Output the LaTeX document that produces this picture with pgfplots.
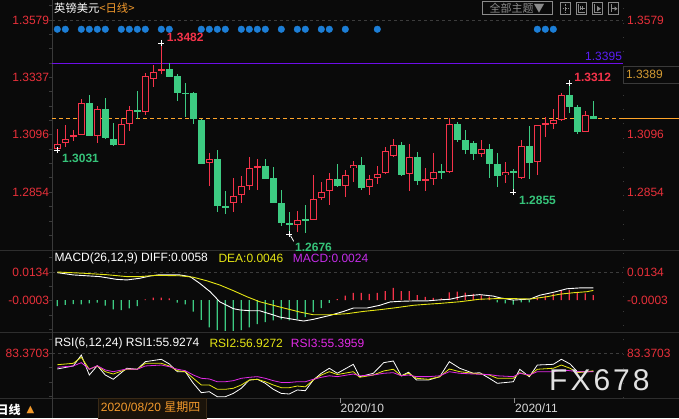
\documentclass[border=0pt]{standalone}
\usepackage{pgfplots}
\pgfplotsset{compat=1.18}
\usepackage{pgfplotstable}
\usepackage{fontspec}
\setmainfont{Liberation Sans}
\newfontfamily\cjk{Noto Sans CJK SC}
\newfontfamily\dvs{DejaVu Sans}
\newfontfamily\fxfont[LetterSpace=10]{Liberation Sans}

\definecolor{bg}{HTML}{0A0A0A}
\definecolor{upred}{HTML}{F5334A}
\definecolor{downgreen}{HTML}{3DCB82}
\definecolor{labred}{HTML}{E8303A}
\definecolor{labgreen}{HTML}{36C47A}
\definecolor{purpleline}{HTML}{6E0EE8}
\definecolor{purpletxt}{HTML}{5A1EF5}
\definecolor{orangeline}{HTML}{FFA52A}
\definecolor{orangetxt}{HTML}{F39A2C}
\definecolor{goldtxt}{HTML}{D39A32}
\definecolor{dotblue}{HTML}{1C7ED6}
\definecolor{axgray}{HTML}{3A3A3A}
\definecolor{gridgray}{HTML}{3C3C3C}
\definecolor{sepgray}{HTML}{2E2E2E}
\definecolor{ylw}{HTML}{E6E614}
\definecolor{mgt}{HTML}{E22AE6}
\definecolor{mgttxt}{HTML}{C42CE8}
\definecolor{btngray}{HTML}{8A8A8A}
\definecolor{datetxt}{HTML}{D8D8D8}
\definecolor{dateborder}{HTML}{3A2A16}
\definecolor{datefill}{HTML}{1A130A}
\definecolor{wmark}{HTML}{E2E2E2}

\newcommand\fs[1]{\fontsize{#1}{#1}\selectfont}

% candles: i open high low close (red = up, green = down)
\pgfplotstableread{
i o h l c
0 1.3034 1.3120 1.3031 1.3055
1 1.3060 1.3135 1.3045 1.3076
2 1.3086 1.3116 1.3071 1.3093
3 1.3096 1.3245 1.3094 1.3228
5 1.3092 1.3217 1.3062 1.3203
8 1.3054 1.3165 1.3052 1.3140
9 1.3142 1.3217 1.3113 1.3198
11 1.3193 1.3354 1.3180 1.3343
12 1.3329 1.3391 1.3298 1.3358
13 1.3363 1.3482 1.3351 1.3371
19 1.2975 1.3017 1.2881 1.2992
22 1.2807 1.2915 1.2772 1.2838
23 1.2841 1.2922 1.2810 1.2880
24 1.2881 1.3001 1.2863 1.2954
25 1.2958 1.2994 1.2862 1.2964
30 1.2718 1.2775 1.2688 1.2735
32 1.2738 1.2926 1.2737 1.2824
33 1.2828 1.2898 1.2821 1.2853
34 1.2857 1.2933 1.2800 1.2909
36 1.2881 1.2947 1.2835 1.2925
37 1.2954 1.2985 1.2898 1.2967
39 1.2874 1.2926 1.2843 1.2909
40 1.2912 1.2964 1.2888 1.2929
41 1.2933 1.3043 1.2932 1.3027
42 1.3008 1.3078 1.3003 1.3051
44 1.2929 1.3057 1.2860 1.3001
46 1.2904 1.2954 1.2859 1.2907
47 1.2908 1.3017 1.2885 1.2937
49 1.2940 1.3168 1.2936 1.3140
53 1.3016 1.3074 1.3001 1.3034
56 1.2925 1.2981 1.2894 1.2937
58 1.2912 1.3074 1.2908 1.3047
60 1.2980 1.3136 1.2926 1.3135
61 1.3140 1.3169 1.3088 1.3145
62 1.3142 1.3203 1.3120 1.3156
63 1.3156 1.3270 1.3154 1.3263
66 1.3109 1.3196 1.3106 1.3177
}\upcandles

\pgfplotstableread{
i o h l c
4 1.3228 1.3263 1.3090 1.3092
6 1.3203 1.3249 1.3079 1.3083
7 1.3078 1.3144 1.3048 1.3052
10 1.3200 1.3278 1.3161 1.3191
14 1.3372 1.3399 1.3337 1.3340
15 1.3343 1.3351 1.3239 1.3273
16 1.3271 1.3315 1.3172 1.3269
17 1.3273 1.3274 1.3140 1.3161
18 1.3158 1.3163 1.2973 1.2974
20 1.2994 1.3031 1.2772 1.2797
21 1.2796 1.2859 1.2761 1.2790
26 1.2964 1.2994 1.2910 1.2911
27 1.2915 1.2958 1.2809 1.2810
28 1.2808 1.2863 1.2711 1.2725
29 1.2723 1.2772 1.2676 1.2717
31 1.2741 1.2800 1.2683 1.2734
35 1.2909 1.2972 1.2877 1.2881
38 1.2967 1.3002 1.2863 1.2873
43 1.3051 1.3067 1.2922 1.2928
45 1.3001 1.3023 1.2884 1.2902
48 1.2943 1.2972 1.2908 1.2937
50 1.3141 1.3149 1.3067 1.3074
51 1.3074 1.3116 1.3015 1.3031
52 1.3060 1.3069 1.2989 1.3016
54 1.3034 1.3058 1.2915 1.2974
55 1.2972 1.3019 1.2877 1.2922
57 1.2942 1.2953 1.2855 1.2936
59 1.3048 1.3132 1.2911 1.2978
64 1.3263 1.3312 1.3189 1.3214
65 1.3212 1.3221 1.3100 1.3109
67 1.3175 1.3238 1.3161 1.3163
}\downcandles

\pgfplotsset{
  panel/.style={scale only axis, anchor=south west, width=570.7pt,
    xmin=-0.625, xmax=70.71, axis x line=none, axis y line*=left,
    clip=false, scaled y ticks=false,
    y axis line style={draw=axgray, line width=0.8pt},
    tick align=outside, major tick length=3pt, minor tick length=3pt,
    ytick style={draw=axgray, line width=0.7pt},
    yticklabel style={text=labred, font=\fs{12}, inner sep=0pt,
      /pgf/number format/fixed, /pgf/number format/fixed zerofill,
      /pgf/number format/precision=4,
      /pgf/number format/assume math mode=true}},
  candle/.style 2 args={draw=none, mark=none, forget plot,
    error bars/.cd, y dir=both, y explicit, error mark=none,
    error bar style={draw=#1, line width=#2, solid}},
}
\tikzset{
  rlab/.style={anchor=west, text=labred, font=\fs{12}, inner sep=0pt, xshift=4pt},
}

\begin{document}
\begin{tikzpicture}[x=1pt,y=1pt]
\clip (0,0) rectangle (679,418);
\fill[bg] (0,0) rectangle (679,418);

% panel separators
\draw[sepgray, line width=0.9pt] (0,167.7) -- (679,167.7);
\draw[sepgray, line width=0.9pt] (0,85.3) -- (679,85.3);
\draw[sepgray, line width=0.9pt] (0,20) -- (679,20);
\draw[axgray, line width=0.8pt] (52.3,0) -- (52.3,418);
\draw[axgray, line width=0.6pt, dash pattern=on 1pt off 13.4pt] (623.3,20) -- (623.3,418);

% ---------------- price panel ----------------
\begin{axis}[panel, at={(52.3pt,168pt)}, height=250pt,
  ymin=1.261053, ymax=1.366316,
  ytick={1.2854,1.3096,1.3337,1.3579},
  minor ytick={1.36395,1.35185,1.3458,1.33975,1.3277,1.32165,1.3156,1.30355,1.2975,1.29145,1.27935,1.2733,1.26725}]
\draw[gridgray, dash pattern=on 3pt off 3pt] (axis cs:-0.625,1.3579) -- (axis cs:70.71,1.3579);
\addplot[draw=purpleline, line width=1.5pt] coordinates {(-0.625,1.3395) (70.71,1.3395)};
\addplot[orangeline, line width=1pt, dash pattern=on 4pt off 3pt] coordinates {(-0.625,1.3163) (70.71,1.3163)};
\addplot[orangeline, line width=1pt] coordinates {(70.71,1.3163) (77.8,1.3163)};

\addplot[only marks, mark=*, mark size=3.3pt, dotblue] coordinates {
 (0,1.354) (1,1.354) (3,1.354) (4,1.354) (5,1.354) (6,1.354)
 (8,1.354) (9,1.354) (10,1.354) (11,1.354) (13,1.354) (14,1.354)
 (18,1.354) (19,1.354) (20,1.354) (21,1.354) (23,1.354) (24,1.354)
 (25,1.354) (26,1.354) (28,1.354) (30,1.354) (31,1.354) (33,1.354)
 (34,1.354) (36,1.354) (40,1.354) (60,1.354) (61,1.354) (62,1.354)};

% wicks
\addplot[candle={upred}{1pt}] table[x=i, y expr=(\thisrow{h}+\thisrow{l})/2,
  y error expr=(\thisrow{h}-\thisrow{l})/2] {\upcandles};
\addplot[candle={downgreen}{1pt}] table[x=i, y expr=(\thisrow{h}+\thisrow{l})/2,
  y error expr=(\thisrow{h}-\thisrow{l})/2] {\downcandles};
% bodies
\addplot[candle={upred}{7pt}] table[x=i, y expr=(\thisrow{o}+\thisrow{c})/2,
  y error expr={max(abs(\thisrow{c}-\thisrow{o})/2,0.00022)}] {\upcandles};
\addplot[candle={bg}{5pt}] table[x=i, y expr=(\thisrow{o}+\thisrow{c})/2,
  y error expr={max(abs(\thisrow{c}-\thisrow{o})/2-0.00042,0)}] {\upcandles};
\addplot[candle={downgreen}{7pt}] table[x=i, y expr=(\thisrow{o}+\thisrow{c})/2,
  y error expr={max(abs(\thisrow{c}-\thisrow{o})/2,0.00022)}] {\downcandles};

% extreme markers
\addplot[only marks, mark=+, mark size=3pt, white, line width=0.8pt] coordinates {
 (0,1.3031) (13,1.3482) (29,1.2676) (57,1.2855) (64,1.3312)};
\draw[white, line width=0.8pt] (axis cs:29.15,1.2671) -- (axis cs:29.55,1.2647);

\node[anchor=west, inner sep=0pt, font=\fs{12}\bfseries, text=upred] at (axis cs:13.67,1.3505) {1.3482};
\node[anchor=west, inner sep=0pt, font=\fs{12}\bfseries, text=labgreen] at (axis cs:0.59,1.2996) {1.3031};
\node[anchor=west, inner sep=0pt, font=\fs{12}\bfseries, text=labgreen] at (axis cs:29.71,1.2621) {1.2676};
\node[anchor=west, inner sep=0pt, font=\fs{12}\bfseries, text=labgreen] at (axis cs:57.71,1.2819) {1.2855};
\node[anchor=west, inner sep=0pt, font=\fs{12}\bfseries, text=upred] at (axis cs:64.6,1.3337) {1.3312};
\node[anchor=east, inner sep=0pt, font=\fs{12}, text=purpletxt] at (axis cs:70.6,1.3425) {1.3395};

\node[rlab] at (axis cs:70.71,1.3579) {1.3579};
\node[rlab] at (axis cs:70.71,1.3096) {1.3096};
\node[rlab] at (axis cs:70.71,1.2854) {1.2854};
\end{axis}

% ---------------- MACD panel ----------------
\begin{axis}[panel, at={(52.3pt,85.3pt)}, height=82.4pt,
  ymin=-0.015575, ymax=0.023757,
  ytick={-0.0003,0.0134}, minor ytick={-0.014,-0.00715,0.00655,0.02025}]
\draw[gridgray, dash pattern=on 3pt off 3pt] (axis cs:-0.625,0.0134) -- (axis cs:70.71,0.0134);
\addplot[ybar, bar width=1.2pt, bar shift=0pt, fill=upred, draw=none] coordinates {
 (11,0.00035) (12,0.00115) (13,0.00115) (14,0.00083) (35,0.0005)
 (36,0.0021) (37,0.0034) (38,0.0034) (39,0.0029) (40,0.0034) (41,0.0043)
 (42,0.0058) (43,0.0043) (44,0.0043) (45,0.0024) (46,0.0015) (47,0.0010)
 (48,0.00083) (49,0.00369) (50,0.00401) (51,0.00353) (52,0.00290) (53,0.00226)
 (54,0.00162) (60,0.00115) (61,0.00210) (62,0.00306) (63,0.00480) (64,0.00480)
 (65,0.00353) (66,0.00322) (67,0.00240)};
\addplot[ybar, bar width=1.2pt, bar shift=0pt, fill=downgreen, draw=none] coordinates {
 (0,-0.00283) (1,-0.00235) (2,-0.00188) (3,-0.00203) (4,-0.00156) (5,-0.00124)
 (6,-0.00267) (7,-0.00442) (8,-0.00474) (9,-0.00394) (10,-0.00283) (15,-0.00124)
 (16,-0.00203) (17,-0.00554) (18,-0.00951) (19,-0.01302) (20,-0.01429) (21,-0.01476)
 (22,-0.01476) (23,-0.01429) (24,-0.01302) (25,-0.01151) (26,-0.01049) (27,-0.00969)
 (28,-0.0092) (29,-0.0097) (30,-0.0092) (31,-0.0081) (32,-0.0057) (33,-0.0038)
 (34,-0.0013)
 (55,-0.00108) (56,-0.00156) (57,-0.00220) (58,-0.00108) (59,-0.00108)};
% DIFF
\addplot[white, line width=0.9pt] coordinates {
 (0,0.0131) (2,0.0120) (5.3,0.0112) (7.4,0.0099) (8.7,0.0096) (10.3,0.0104)
 (11.6,0.0115) (12.8,0.0121) (15.3,0.0120) (16.6,0.0112) (17.8,0.0080) (19.1,0.0040)
 (20.3,-0.0008) (22,-0.0041) (22.8,-0.0047) (24.1,-0.0051) (25.3,-0.0051) (27,-0.0071)
 (27.8,-0.0081) (29.5,-0.0092) (30.8,-0.0100) (32,-0.0092) (34.1,-0.0073) (35.8,-0.0054)
 (37,-0.0038) (38.7,-0.0038) (40.3,-0.0025) (41.6,-0.0009) (42.8,-0.0006) (44.5,-0.0004)
 (46.2,-0.0004) (47.8,0.0001) (49.1,0.0004)
 (50.8,0.0019) (52.8,0.0026) (54.5,0.0019) (55.3,0.0011) (57,0.0000) (59.1,0.0005)
 (60.3,0.0023) (62,0.0037) (63.7,0.0054) (65.3,0.0058) (67,0.0058)};
% DEA
\addplot[ylw, line width=0.9pt] coordinates {
 (0,0.0134) (3.25,0.0128) (6.2,0.0121) (8.7,0.0112) (10.3,0.0112) (12.4,0.0118)
 (15.3,0.0116) (17,0.0109) (18.7,0.0092) (20.3,0.0072) (22,0.0045) (23.7,0.0016)
 (25.3,-0.0008) (27,-0.0025) (27.8,-0.0033) (30.3,-0.0057) (32,-0.0070) (34.1,-0.0070)
 (36.2,-0.0065) (38.3,-0.0054) (40.3,-0.0046) (42.4,-0.0036) (44.5,-0.0025) (46.2,-0.0020)
 (47.8,-0.0016) (50.3,-0.0008) (52.8,0.0004) (54.9,0.0007) (57,0.0007) (59.1,0.0005)
 (61.2,0.0016) (62.8,0.0028) (64.5,0.0035) (66.2,0.0040) (67,0.0046)};
\node[rlab] at (axis cs:70.71,0.0134) {0.0134};
\node[rlab] at (axis cs:70.71,-0.0003) {-0.0003};
\end{axis}

% ---------------- RSI panel ----------------
\begin{axis}[panel, at={(52.3pt,20pt)}, height=65.3pt,
  ymin=15.64, ymax=114.58,
  ytick={83.3703}, minor ytick={17.95,39.75,61.55,105.2}]
\draw[gridgray, dash pattern=on 3pt off 3pt] (axis cs:-0.625,83.3703) -- (axis cs:70.71,83.3703);
\addplot[white, line width=0.8pt] coordinates {
 (0,59.6) (2,64.2) (3,80.8) (4,50.5) (5,64.6) (6,50.5) (7,44.0) (8.67,60.7) (10,59.2)
 (11,70.7) (13,74.3) (14,67.2) (15,55.5) (16,55.5) (17,37.9) (18,23.7) (19,25.2)
 (20,17.6) (21,17.6) (22,22.6) (23,30.4) (24,42.9) (25,44.0) (26,37.9) (27,28.8)
 (28,22.6) (29,21.7) (30,27.8) (31,26.7) (32,42.9) (33,53.1) (34,60.7) (35,53.1)
 (37,66.7) (37.8,47.9) (39.5,53.1) (40.8,69.2) (42,71.7) (43,49.3) (43.9,54.6)
 (44.9,42.9) (46.4,42.9) (47.8,47.9) (49,70.7) (50.3,60.7) (52,53.1) (52.8,54.0)
 (54,45.5) (55,37.9) (57,40.3) (57.8,59.2) (59,47.9) (60,65.6) (62,66.7) (63,74.3)
 (64.1,67.2) (65,55.5) (66.2,55.5) (67,55.93)};
\addplot[ylw, line width=0.8pt] coordinates {
 (0,66.1) (2,68.2) (3,77.3) (4,59.2) (5,64.2) (6,55.5) (7,52.0) (8.67,59.2) (10,59.2)
 (11,68.2) (13,68.2) (14,64.2) (15,57.0) (16,55.5) (17,45.5) (18,35.4) (19,35.4)
 (20,28.8) (21,28.8) (22,30.4) (23,35.4) (24,42.9) (25,44.0) (26,40.3) (27,35.4)
 (28,31.3) (29,31.3) (30,33.8) (31,32.6) (32,42.9) (33,50.5) (34,55.5) (35,51.2)
 (37,55.5) (37.8,47.0) (39.5,50.5) (40.8,56.6) (42,59.2) (43,49.3) (43.9,53.1)
 (44.9,45.5) (46.4,44.0) (47.8,47.9) (49,59.6) (50.3,55.5) (52,53.1) (54,50.5)
 (55,45.5) (57,45.5) (57.8,54.0) (59,49.3) (60,59.2) (62,60.7) (63,65.6) (64.1,60.7)
 (65,54.0) (66.2,55.5) (67,56.93)};
\addplot[mgt, line width=0.8pt] coordinates {
 (0,62.2) (2,64.2) (3,69.2) (4,59.2) (5,64.6) (6,58.1) (7,55.5) (8.67,59.6) (10,59.2)
 (11,64.2) (13,65.6) (14,63.1) (15,59.2) (16,57.0) (17,50.5) (18,45.5) (19,44.5)
 (20,40.3) (21,40.3) (22,41.9) (23,45.5) (24,47.0) (25,48.0) (26,45.5) (27,41.9)
 (28,39.2) (29,39.2) (30,40.3) (31,40.3) (32,44.0) (33,47.0) (34,49.3) (35,48.0)
 (37,52.0) (37.8,49.3) (39.5,50.5) (40.8,53.1) (42,54.0) (43,49.3) (43.9,50.5)
 (44.9,48.0) (46.4,48.0) (47.8,49.3) (49,55.5) (50.3,53.1) (52,52.0) (54,51.2)
 (55,49.3) (57,48.0) (57.8,53.1) (59,50.5) (60,55.5) (62,55.5) (63,58.1) (64.1,57.0)
 (65,55.5) (66.2,55.5) (67,55.40)};
\node[rlab] at (axis cs:70.71,83.3703) {83.3703};
\end{axis}

% ---------------- texts and widgets ----------------
\node[anchor=west, inner sep=0pt, font=\cjk\fs{11.3}] at (54,409.5)
  {\textcolor{white}{英镑美元}\textcolor{orangetxt}{<日线>}};

\draw[btngray, line width=0.7pt] (482.3,417) rectangle (552,403.3);
\node[inner sep=0pt, font=\cjk\fs{11}, text=btngray] at (517,410) {全部主题▼};
\begin{scope}[btngray, line width=0.7pt]
  \draw (560.7,415.3) rectangle (570.7,403.3);
  \draw[dash pattern=on 1.5pt off 1pt] (565.7,413.5) -- (565.7,405.1) (562.5,409.3) -- (568.9,409.3);
  \draw (576,415.3) rectangle (586.7,403.3);
  \draw (578.5,413.5) -- (578.5,405.5) -- (585,405.5) (580.5,411.5) -- (580.5,407.5) (582.5,411.5) -- (582.5,407.5) (580.5,409.5) -- (584.5,409.5);
  \draw (592,415.3) rectangle (602.7,403.3);
  \draw (594.5,413.5) -- (594.5,405.5) -- (601,405.5);
  \fill[btngray] (597,412) -- (601,409.3) -- (597,406.6) -- cycle;
  \draw (608.7,415.3) rectangle (618.7,403.3);
  \draw (611.5,413.5) -- (611.5,405.5) (611.5,409.3) -- (616.5,409.3);
  \fill[btngray] (614.5,411.5) -- (617.5,409.3) -- (614.5,407.1) -- cycle;
\end{scope}

\draw[axgray, line width=0.8pt, fill=bg] (623.3,352) rectangle (679.5,334.5);
\node[anchor=west, inner sep=0pt, font=\fs{12}, text=goldtxt] at (625.8,343.2) {1.3389};

% indicator captions
\node[anchor=west, inner sep=0pt, font=\fs{12}, text=white] at (54.3,159.5) {MACD(26,12,9) DIFF:0.0058};
\node[anchor=west, inner sep=0pt, font=\fs{12}, text=ylw] at (218.3,159.5) {DEA:0.0046};
\node[anchor=west, inner sep=0pt, font=\fs{12}, text=mgttxt] at (292.7,159.5) {MACD:0.0024};

\node[anchor=west, inner sep=0pt, font=\fs{12}, text=white] at (54.3,74.7) {RSI(6,12,24) RSI1:55.9274};
\node[anchor=west, inner sep=0pt, font=\fs{12}, text=ylw] at (209.3,74.7) {RSI2:56.9272};
\node[anchor=west, inner sep=0pt, font=\fs{12}, text=mgt] at (290.7,74.7) {RSI3:55.3959};

% date row
\draw[dateborder, line width=0.7pt, fill=datefill] (98.3,-1) rectangle (206,19.3);
\node[anchor=west, inner sep=0pt, text=orangetxt, font=\fs{12}] at (100.7,10.5) {2020/08/20 {\cjk 星期四}};
\draw[btngray, line width=0.7pt] (340,20) -- (340,15.3) (514,20) -- (514,15.3);
\node[anchor=west, inner sep=0pt, font=\fs{12}, text=datetxt] at (340.5,9.5) {2020/10};
\node[anchor=west, inner sep=0pt, font=\fs{12}, text=datetxt] at (515,9.5) {2020/11};
\node[anchor=west, inner sep=0pt, font=\cjk\fs{12}\bfseries, text=white] at (-3.5,8.5) {日线};
\node[anchor=west, inner sep=0pt, font=\dvs\fs{10}, text=orangetxt] at (26.5,8.5) {▲};

% watermark
\node[anchor=west, inner sep=0pt, font=\fxfont\fs{30}, text=wmark] at (549,37.5) {FX678};
\end{tikzpicture}
\end{document}
